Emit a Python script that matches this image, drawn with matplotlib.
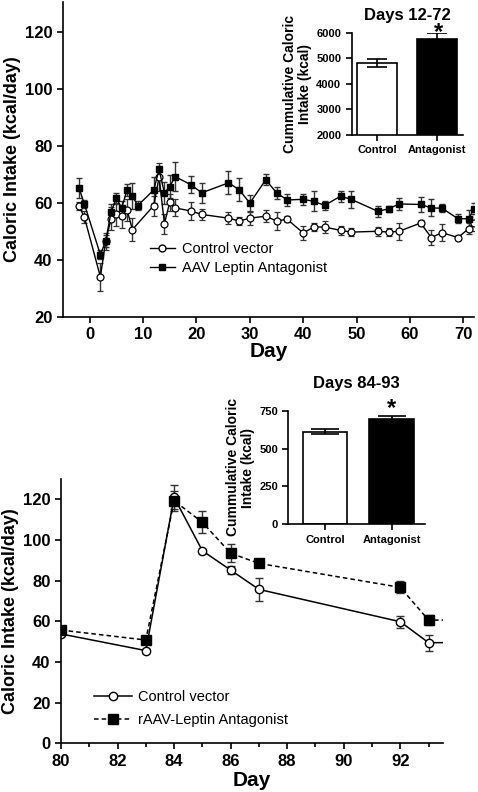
import matplotlib
matplotlib.use("Agg")
import matplotlib.pyplot as plt
from matplotlib.lines import Line2D
import numpy as np

plt.rcParams['font.family'] = ['Liberation Sans', 'DejaVu Sans']

# ---- Top chart data (Days -2..72) ----
top_days = [-2, -1, 2, 3, 4, 5, 6, 7, 8, 9, 12, 13, 14, 15, 16, 19, 21, 26, 28, 30,
            33, 35, 37, 40, 42, 44, 47, 49, 54, 56, 58, 62, 64, 66, 69, 71, 72]
top_ant = [65.2, 59.6, 41.8, 46.6, 56.7, 61.6, 58.2, 64.5, 62.4, 59.0, 64.5, 71.7, 63.4, 65.7,
           69.2, 66.3, 63.5, 67.0, 64.6, 59.9, 68.1, 63.5, 61.0, 61.2, 60.5, 59.1, 62.3, 61.2,
           57.0, 57.9, 59.6, 59.4, 58.2, 58.1, 54.4, 54.4, 57.9]
top_ant_err = [3.5, 1.5, 1.5, 2, 3, 2, 2.5, 2, 4.5, 1.5, 4.5, 1, 4, 4, 5, 3, 3.5, 4, 4, 3,
               2, 2, 2, 2, 3.5, 1.5, 2, 3, 2, 1, 2, 2.5, 3, 1.5, 1.5, 3, 2]
top_ctl_days = [-2, -1, 2, 3, 4, 5, 6, 7, 8, 12, 13, 14, 15, 16, 19, 21, 26, 28, 30,
                33, 35, 37, 40, 42, 44, 47, 49, 54, 56, 58, 62, 64, 66, 69, 71, 72]
top_ctl = [58.8, 55.0, 34.0, 46.5, 54.4, 55.9, 55.3, 57.5, 50.6, 59.0, 69.0, 52.7, 60.2, 58.2,
           57.1, 55.9, 54.6, 53.6, 54.6, 55.3, 53.6, 54.2, 49.4, 51.5, 51.5, 50.3, 49.7,
           50.0, 49.7, 50.0, 52.9, 47.8, 49.5, 47.8, 50.9, 53.0]
top_ctl_err = [1.5, 2, 5, 3, 4, 4, 4, 4, 4, 3.5, 5, 3.5, 3, 3, 3, 2, 2, 1.5, 2.5, 2, 3, 1,
               2.5, 1.5, 2, 1.5, 1.5, 1.5, 1.5, 3, 1, 2.5, 3, 1, 2, 3]

# ---- Inset 1 (Days 12-72) ----
inset1_cats = ['Control', 'Antagonist']
inset1_vals = [4820, 5765]
inset1_err = [150, 230]

# ---- Bottom chart data (Days 80..93) ----
bot_days = [80, 83, 84, 85, 86, 87, 92, 93, 94]
bot_ctl = [53.8, 45.6, 121.0, 94.7, 85.2, 75.7, 59.8, 49.5, 49.5]
bot_ctl_err = [1, 1, 6, 1, 2, 5.5, 3, 4, 0]
bot_ant = [55.7, 50.8, 119.3, 108.7, 93.5, 88.5, 76.7, 60.6, 60.6]
bot_ant_err = [2, 2, 5, 5.5, 4.5, 2, 3, 2.5, 0]

# ---- Inset 2 (Days 84-93) ----
inset2_cats = ['Control', 'Antagonist']
inset2_vals = [611, 693]
inset2_err = [15, 22]

W, H = 478, 792
fig = plt.figure(figsize=(W / 100, H / 100), dpi=100)


def ax_px(l, r, b, t):
    return fig.add_axes([l / W, 1 - b / H, (r - l) / W, (b - t) / H])


def style(ax, fs=11):
    for s in ['top', 'right']:
        ax.spines[s].set_visible(False)
    for s in ['left', 'bottom']:
        ax.spines[s].set_linewidth(1.2)
    ax.tick_params(direction='out', width=1.2, length=4, labelsize=fs)
    for lab in ax.get_xticklabels() + ax.get_yticklabels():
        lab.set_fontweight('bold')


# ---------------- Top main chart ----------------
ax1 = ax_px(63, 474, 316.7, 2)
ax1.errorbar(top_ctl_days, top_ctl, yerr=top_ctl_err, color='black', lw=1, marker='o',
             ms=5, mfc='white', mec='black', mew=0.9, capsize=2.5, elinewidth=1, ecolor='#333333')
ax1.errorbar(top_days, top_ant, yerr=top_ant_err, color='black', lw=1, marker='s',
             ms=5, mfc='black', mec='black', capsize=2.5, elinewidth=1, ecolor='#333333')
ax1.set_xlim(-5, 72)
ax1.set_ylim(20, 130.5)
ax1.set_xticks(np.arange(0, 71, 10))
ax1.set_yticks(np.arange(20, 121, 20))
ax1.set_xlabel('Day', fontsize=15, fontweight='bold', labelpad=0)
ax1.set_ylabel('Caloric Intake (kcal/day)', fontsize=13, fontweight='bold', labelpad=3)
style(ax1, 12)
h1 = [Line2D([], [], color='black', lw=1, marker='o', ms=5, mfc='white', mec='black'),
      Line2D([], [], color='black', lw=1, marker='s', ms=5, mfc='black', mec='black')]
ax1.legend(h1, ['Control vector', 'AAV Leptin Antagonist'], loc='upper left',
           bbox_to_anchor=((150 - 63) / 411, 1 - (242 - 2) / 314.7),
           frameon=False, fontsize=10.5, handlelength=1.7, handletextpad=0.5,
           borderaxespad=0, labelspacing=0.35, borderpad=0)

# ---------------- Inset 1 ----------------
axi1 = ax_px(351.7, 463, 134.7, 32.7)
axi1.bar([0, 1], inset1_vals, width=0.67, color=['white', 'black'], edgecolor='black',
         linewidth=1.2, yerr=inset1_err,
         error_kw=dict(capsize=7, elinewidth=1.2, capthick=1.2, ecolor='black'))
axi1.set_xlim(-0.42, 1.43)
axi1.set_ylim(2000, 6000)
axi1.set_yticks([2000, 3000, 4000, 5000, 6000])
axi1.set_xticks([0, 1])
axi1.set_xticklabels(inset1_cats)
axi1.set_ylabel('Cummulative Caloric\nIntake (kcal)', fontsize=10, fontweight='bold',
                linespacing=1.1, labelpad=3)
axi1.set_title('Days 12-72', fontsize=12, fontweight='bold', pad=9)
style(axi1, 8)
axi1.text(1.02, 5753, '*', ha='center', va='baseline', fontsize=17, fontweight='bold',
          clip_on=False)

# ---------------- Bottom main chart ----------------
ax2 = ax_px(61, 442.7, 743.3, 479)
ax2.errorbar(bot_days, bot_ctl, yerr=bot_ctl_err, color='black', lw=1.1, marker='o',
             ms=6, mfc='white', mec='black', mew=1, capsize=3, elinewidth=1, ecolor='#333333')
ax2.errorbar(bot_days, bot_ant, yerr=bot_ant_err, color='black', lw=1.1, ls=(0, (3, 2)),
             marker='s', ms=7.5, mfc='black', mec='black', capsize=3, elinewidth=1,
             ecolor='#333333')
ax2.set_xlim(80, 93.5)
ax2.set_ylim(0, 130)
ax2.set_xticks(np.arange(80, 93, 2))
ax2.set_xticks(np.arange(81, 94, 2), minor=True)
ax2.set_yticks(np.arange(0, 121, 20))
ax2.set_xlabel('Day', fontsize=15, fontweight='bold', labelpad=2)
ax2.set_ylabel('Caloric Intake (kcal/day)', fontsize=13, fontweight='bold', labelpad=3)
style(ax2, 12)
ax2.tick_params(which='minor', direction='out', width=1.2, length=3)
h2 = [Line2D([], [], color='black', lw=1.1, marker='o', ms=6, mfc='white', mec='black'),
      Line2D([], [], color='black', lw=1.1, ls=(0, (3, 2)), marker='s', ms=7.5,
             mfc='black', mec='black')]
ax2.legend(h2, ['Control vector', 'rAAV-Leptin Antagonist'], loc='upper left',
           bbox_to_anchor=((94 - 61) / 381.7, 1 - (690 - 479) / 264.3),
           frameon=False, fontsize=10.5, handlelength=2.6, handletextpad=0.4,
           borderaxespad=0, labelspacing=0.6, borderpad=0)

# ---------------- Inset 2 ----------------
axi2 = ax_px(288.3, 425, 524.3, 410.7)
axi2.bar([0, 1], inset2_vals, width=0.67, color=['white', 'black'], edgecolor='black',
         linewidth=1.2, yerr=inset2_err,
         error_kw=dict(capsize=10, elinewidth=1.2, capthick=1.2, ecolor='black'))
axi2.set_xlim(-0.55, 1.5)
axi2.set_ylim(0, 750)
axi2.set_yticks([0, 250, 500, 750])
axi2.set_xticks([0, 1])
axi2.set_xticklabels(inset2_cats)
axi2.set_ylabel('Cummulative Caloric\nIntake (kcal)', fontsize=10, fontweight='bold',
                linespacing=1.1, labelpad=3)
axi2.set_title('Days 84-93', fontsize=12, fontweight='bold', pad=16)
style(axi2, 8)
axi2.text(1.0, 722, '*', ha='center', va='baseline', fontsize=17, fontweight='bold',
          clip_on=False)

fig.savefig('out.png', dpi=100)
